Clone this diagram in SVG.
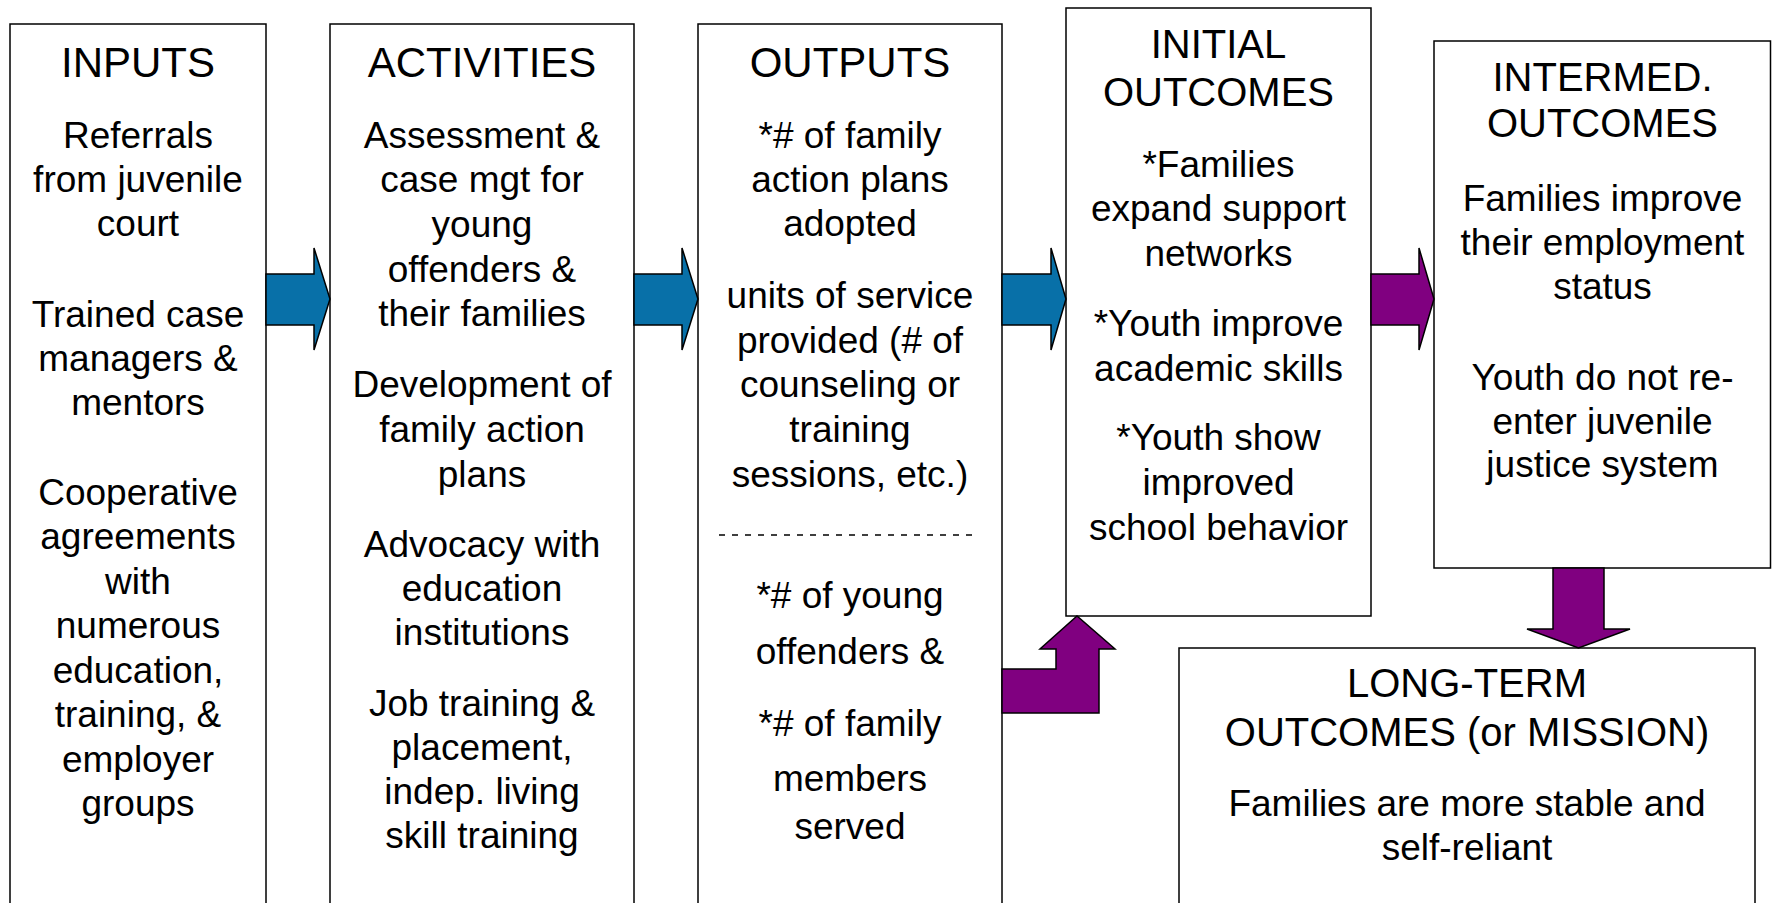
<svg xmlns="http://www.w3.org/2000/svg" width="1772" height="903" viewBox="0 0 1772 903">
<style>
.box{fill:#fff;stroke:#000;stroke-width:1.5}
.t{font-family:"Liberation Sans",Arial,sans-serif;fill:#000;text-anchor:middle}
.h{font-size:42px}
.h2{font-size:40px}
.b{font-size:37px}
.blue{fill:#0870A8;stroke:#000;stroke-width:1.5;stroke-linejoin:miter}
.purple{fill:#800080;stroke:#000;stroke-width:1.5;stroke-linejoin:miter}
</style>
<rect width="1772" height="903" fill="#fff"/>
<g id="inputs">
<rect class="box" x="10" y="24" width="256" height="900"/>
<text class="t h" x="138" y="77">INPUTS</text>
<text class="t b" x="138"><tspan x="138" y="148">Referrals</tspan><tspan x="138" y="192">from juvenile</tspan><tspan x="138" y="236">court</tspan><tspan x="138" y="327">Trained case</tspan><tspan x="138" y="371">managers &amp;</tspan><tspan x="138" y="415">mentors</tspan><tspan x="138" y="505">Cooperative</tspan><tspan x="138" y="549">agreements</tspan><tspan x="138" y="594">with</tspan><tspan x="138" y="638">numerous</tspan><tspan x="138" y="683">education,</tspan><tspan x="138" y="727">training, &amp;</tspan><tspan x="138" y="772">employer</tspan><tspan x="138" y="816">groups</tspan></text>
</g>
<g id="activities">
<rect class="box" x="330" y="24" width="304" height="900"/>
<text class="t h" x="482" y="77">ACTIVITIES</text>
<text class="t b" x="482"><tspan x="482" y="148">Assessment &amp;</tspan><tspan x="482" y="192">case mgt for</tspan><tspan x="482" y="237">young</tspan><tspan x="482" y="282">offenders &amp;</tspan><tspan x="482" y="326">their families</tspan><tspan x="482" y="397">Development of</tspan><tspan x="482" y="442">family action</tspan><tspan x="482" y="487">plans</tspan><tspan x="482" y="557">Advocacy with</tspan><tspan x="482" y="601">education</tspan><tspan x="482" y="645">institutions</tspan><tspan x="482" y="716">Job training &amp;</tspan><tspan x="482" y="760">placement,</tspan><tspan x="482" y="804">indep. living</tspan><tspan x="482" y="848">skill training</tspan></text>
</g>
<g id="outputs">
<rect class="box" x="698" y="24" width="304" height="900"/>
<text class="t h" x="850" y="77">OUTPUTS</text>
<text class="t b" x="850"><tspan x="850" y="148">*# of family</tspan><tspan x="850" y="192">action plans</tspan><tspan x="850" y="236">adopted</tspan><tspan x="850" y="308">units of service</tspan><tspan x="850" y="353">provided (# of</tspan><tspan x="850" y="397">counseling or</tspan><tspan x="850" y="442">training</tspan><tspan x="850" y="487">sessions, etc.)</tspan><tspan x="850" y="608">*# of young</tspan><tspan x="850" y="664">offenders &amp;</tspan><tspan x="850" y="736">*# of family</tspan><tspan x="850" y="791">members</tspan><tspan x="850" y="839">served</tspan></text>
<line x1="719" y1="535" x2="972" y2="535" stroke="#000" stroke-width="1.5" stroke-dasharray="6 7"/>
</g>
<g id="initial-outcomes">
<rect class="box" x="1066" y="8" width="305" height="608"/>
<text class="t h2" x="1218.5"><tspan x="1218.5" y="58">INITIAL</tspan><tspan x="1218.5" y="106">OUTCOMES</tspan></text>
<text class="t b" x="1218.5"><tspan x="1218.5" y="177">*Families</tspan><tspan x="1218.5" y="221">expand support</tspan><tspan x="1218.5" y="266">networks</tspan><tspan x="1218.5" y="336">*Youth improve</tspan><tspan x="1218.5" y="381">academic skills</tspan><tspan x="1218.5" y="450">*Youth show</tspan><tspan x="1218.5" y="495">improved</tspan><tspan x="1218.5" y="540">school behavior</tspan></text>
</g>
<g id="intermed-outcomes">
<rect class="box" x="1434" y="41" width="336.5" height="527"/>
<text class="t h2" x="1602.5"><tspan x="1602.5" y="91">INTERMED.</tspan><tspan x="1602.5" y="137">OUTCOMES</tspan></text>
<text class="t b" x="1602.5"><tspan x="1602.5" y="211">Families improve</tspan><tspan x="1602.5" y="255">their employment</tspan><tspan x="1602.5" y="299">status</tspan><tspan x="1602.5" y="390">Youth do not re-</tspan><tspan x="1602.5" y="434">enter juvenile</tspan><tspan x="1602.5" y="477">justice system</tspan></text>
</g>
<g id="long-term-outcomes">
<rect class="box" x="1179" y="648" width="576" height="300"/>
<text class="t h2" x="1467"><tspan x="1467" y="697">LONG-TERM</tspan><tspan x="1467" y="746">OUTCOMES (or MISSION)</tspan></text>
<text class="t b" x="1467"><tspan x="1467" y="816">Families are more stable and</tspan><tspan x="1467" y="860">self-reliant</tspan></text>
</g>
<g id="connectors">
<polygon class="blue" points="266,274 314,274 314,248 330,299 314,350 314,325 266,325"/>
<polygon class="blue" points="634,274 682,274 682,248 698,299 682,350 682,325 634,325"/>
<polygon class="blue" points="1002,274 1051,274 1051,248 1066,299 1051,350 1051,325 1002,325"/>
<polygon class="purple" points="1371,274 1419,274 1419,248 1434,299 1419,350 1419,325 1371,325"/>
<polygon class="purple" points="1553,568 1604,568 1604,629 1630,629 1578.5,648 1527,629 1553,629"/>
<polygon class="purple" points="1002,669 1056,669 1056,649 1040,649 1077,616 1115,649 1099,649 1099,713 1002,713"/>
</g>
</svg>
